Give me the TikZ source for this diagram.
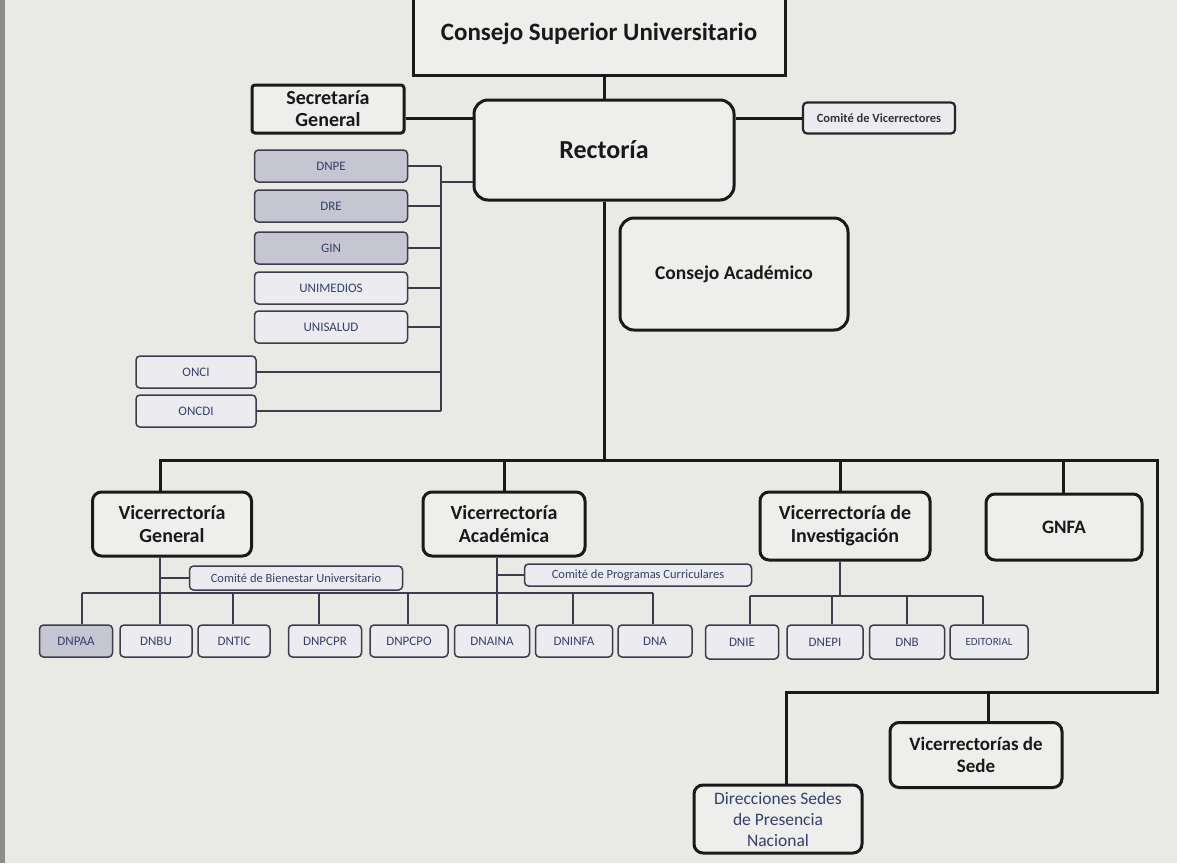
\documentclass[tikz,border=0pt]{standalone}
\usepackage{fontspec}
\setmainfont{Carlito}
\definecolor{bg}{HTML}{E9E9E6}
\definecolor{boxfill}{HTML}{EEEEEC}
\definecolor{greyfill}{HTML}{C6C6D2}
\definecolor{lightfill}{HTML}{ECECF0}
\definecolor{smalltext}{HTML}{34406A}
\definecolor{smallline}{HTML}{3C3C4C}
\tikzset{
  bigbox/.style={draw=black!90, line width=3pt, rounded corners=9pt, fill=boxfill, align=center, font=\bfseries, text=black!90, inner sep=0pt},
  sqbox/.style={draw=black!90, line width=3pt, fill=boxfill, align=center, font=\bfseries, text=black!90, inner sep=0pt},
  smallbox/.style={draw=smallline, line width=1.5pt, rounded corners=4pt, fill=lightfill, align=center, font=\fontsize{13}{15}\selectfont, text=smalltext, inner sep=0pt},
  greybox/.style={smallbox, fill=greyfill},
  mainline/.style={draw=black!90, line width=3pt},
  subline/.style={draw=smallline, line width=1.6pt},
  vrfont/.style={font=\bfseries\fontsize{20}{23}\selectfont},
}
\begin{document}
\begin{tikzpicture}[x=1pt,y=-1pt]
\useasboundingbox (0,0) rectangle (1177,863);
\fill[bg] (0,0) rectangle (1177,863);
\fill[black!45] (0,0) rectangle (5,863);
% top level
\node[sqbox, minimum width=372pt, minimum height=82pt, font=\bfseries\fontsize{25}{28}\selectfont] (csu) at (599,34) {Consejo Superior Universitario};
\node[bigbox, rounded corners=14pt, minimum width=260pt, minimum height=100pt, font=\bfseries\fontsize{26}{30}\selectfont] (rect) at (604,150) {Rectoría};
\node[sqbox, rounded corners=3pt, minimum width=152pt, minimum height=48pt, font=\bfseries\fontsize{20}{22}\selectfont] (sec) at (328,109) {Secretaría\\General};
\node[smallbox, line width=2.2pt, draw=black!85, minimum width=152pt, minimum height=31pt, font=\bfseries\fontsize{12.5}{14}\selectfont, text=black!80] (comite) at (879,118) {Comité de Vicerrectores};
\node[bigbox, rounded corners=14pt, minimum width=228pt, minimum height=112pt, font=\bfseries\fontsize{19.5}{22}\selectfont] (cacad) at (734,274) {Consejo Académico};
% staff units
\node[greybox, minimum width=153pt, minimum height=32pt] (dnpe) at (331,166) {DNPE};
\node[greybox, minimum width=153pt, minimum height=32pt] (dre) at (331,206) {DRE};
\node[greybox, minimum width=153pt, minimum height=32pt] (gin) at (331,248) {GIN};
\node[smallbox, minimum width=153pt, minimum height=32pt] (unimedios) at (331,288) {UNIMEDIOS};
\node[smallbox, minimum width=153pt, minimum height=32pt] (unisalud) at (331,327) {UNISALUD};
\node[smallbox, minimum width=120pt, minimum height=32pt] (onci) at (196,372) {ONCI};
\node[smallbox, minimum width=120pt, minimum height=32pt] (oncdi) at (196,411) {ONCDI};
% vice-rectorates
\node[bigbox, vrfont, minimum width=159pt, minimum height=64pt] (vg) at (172,524) {Vicerrectoría\\General};
\node[bigbox, vrfont, minimum width=162pt, minimum height=64pt] (va) at (504,524) {Vicerrectoría\\Académica};
\node[bigbox, vrfont, minimum width=170pt, minimum height=68pt] (vi) at (845,526) {Vicerrectoría de\\Investigación};
\node[bigbox, minimum width=156pt, minimum height=66pt, font=\bfseries\fontsize{19}{22}\selectfont] (gnfa) at (1064,527) {GNFA};
\node[smallbox, minimum width=213pt, minimum height=24pt, font=\fontsize{12.5}{14}\selectfont] (cbu) at (296,578) {Comité de Bienestar Universitario};
\node[smallbox, minimum width=227pt, minimum height=22pt, font=\fontsize{12.5}{14}\selectfont] (cpc) at (638,575) {Comité de Programas Curriculares};
% bottom row
\node[greybox, minimum width=73pt, minimum height=32pt] (dnpaa) at (76,641) {DNPAA};
\node[smallbox, minimum width=72pt, minimum height=32pt] (dnbu) at (156,641) {DNBU};
\node[smallbox, minimum width=72pt, minimum height=32pt] (dntic) at (234,641) {DNTIC};
\node[smallbox, minimum width=73pt, minimum height=32pt] (dnpcpr) at (325,641) {DNPCPR};
\node[smallbox, minimum width=78pt, minimum height=32pt] (dnpcpo) at (409,641) {DNPCPO};
\node[smallbox, minimum width=75pt, minimum height=32pt] (dnaina) at (492,641) {DNAINA};
\node[smallbox, minimum width=77pt, minimum height=32pt] (dninfa) at (574,641) {DNINFA};
\node[smallbox, minimum width=74pt, minimum height=32pt] (dna) at (655,641) {DNA};
\node[smallbox, minimum width=73pt, minimum height=34pt] (dnie) at (742,642) {DNIE};
\node[smallbox, minimum width=76pt, minimum height=34pt] (dnepi) at (825,642) {DNEPI};
\node[smallbox, minimum width=75pt, minimum height=34pt] (dnb) at (907,642) {DNB};
\node[smallbox, minimum width=78pt, minimum height=34pt, font=\fontsize{11}{13}\selectfont] (edit) at (989,642) {EDITORIAL};
% sedes
\node[bigbox, minimum width=172pt, minimum height=65pt, font=\bfseries\fontsize{19}{22}\selectfont] (vsede) at (976,755) {Vicerrectorías de\\Sede};
\node[bigbox, minimum width=168pt, minimum height=68pt, font=\fontsize{17.5}{21}\selectfont, text=smalltext] (dspn) at (778,819) {Direcciones Sedes\\de Presencia\\Nacional};
% coordinates
\coordinate (y118) at (0,118);
\coordinate (y182) at (0,182);
\coordinate (sv) at (441,166);
\coordinate (svb) at (441,411);
\coordinate (bus) at (604,460);
\coordinate (busL) at (160,460);
\coordinate (busR) at (1157,460);
\coordinate (loopB) at (1157,692);
\coordinate (loopL) at (786,692);
\coordinate (loopS) at (988,692);
\coordinate (vgx) at (160,0);
\coordinate (vax) at (497,0);
\coordinate (vix) at (840,0);
\coordinate (b3) at (0,596);
% main connectors
\draw[mainline] (csu.south -| rect.north) -- (rect.north);
\draw[mainline] (sec.east |- y118) -- (rect.west |- y118);
\draw[mainline] (rect.east |- comite.west) -- (comite.west);
\draw[mainline] (rect.south) -- (bus);
\draw[mainline] (busL |- vg.north) -- (busL) -- (busR) -- (loopB) -- (loopL) -- (dspn.north -| loopL);
\draw[mainline] (va.north) -- (va.north |- bus);
\draw[mainline] (vix |- vi.north) -- (vix |- bus);
\draw[mainline] (gnfa.north -| 1063,0) -- (1063,460);
\draw[mainline] (loopS) -- (vsede.north -| loopS);
% staff connectors
\draw[subline] (sv) -- (svb);
\draw[subline] (dnpe.east) -- (dnpe.east -| sv);
\draw[subline] (dre.east) -- (dre.east -| sv);
\draw[subline] (gin.east) -- (gin.east -| sv);
\draw[subline] (unimedios.east) -- (unimedios.east -| sv);
\draw[subline] (unisalud.east) -- (unisalud.east -| sv);
\draw[subline] (onci.east) -- (onci.east -| sv);
\draw[subline] (oncdi.east) -- (oncdi.east -| sv);
\draw[subline] (sv |- y182) -- (rect.west |- y182);
% VG and VA sub-structure
\draw[subline] (vgx |- vg.south) -- (vgx |- dnbu.north);
\draw[subline] (vgx |- cbu.west) -- (cbu.west);
\draw[subline] (82,593) -- (653,593);
\draw[subline] (82,593) -- (dnpaa.north -| 82,0);
\draw[subline] (dntic.north -| 233,0) -- (233,593);
\draw[subline] (dnpcpr.north -| 319,0) -- (319,593);
\draw[subline] (dnpcpo.north -| 408,0) -- (408,593);
\draw[subline] (vax |- va.south) -- (vax |- dnaina.north);
\draw[subline] (vax |- cpc.west) -- (cpc.west);
\draw[subline] (dninfa.north -| 573,0) -- (573,593);
\draw[subline] (dna.north -| 653,0) -- (653,593);
% VI sub-structure
\draw[subline] (vix |- vi.south) -- (vix |- b3);
\draw[subline] (750,596) -- (983,596);
\draw[subline] (750,596) -- (dnie.north -| 750,0);
\draw[subline] (832,596) -- (dnepi.north -| 832,0);
\draw[subline] (907,596) -- (dnb.north -| 907,0);
\draw[subline] (983,596) -- (edit.north -| 983,0);
\end{tikzpicture}
\end{document}
